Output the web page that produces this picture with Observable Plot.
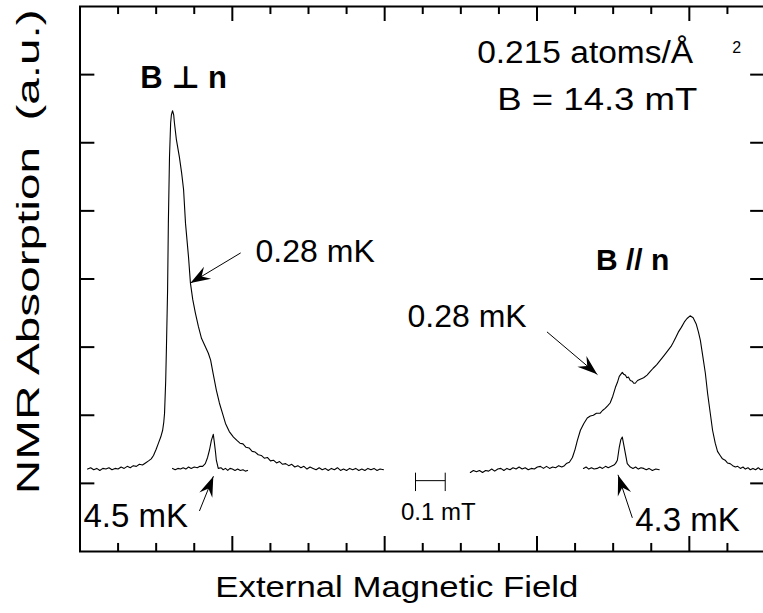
<!DOCTYPE html>
<html>
<head>
<meta charset="utf-8">
<script src="https://cdn.jsdelivr.net/npm/d3@7"></script>
<script src="https://cdn.jsdelivr.net/npm/@observablehq/plot@0.6"></script>
<style>
  html, body { margin: 0; padding: 0; background: #fff; }
  #chart svg { display: block; }
</style>
</head>
<body>
<div id="chart"></div>
<script>
// ---- data (field in axis-grid units, absorption in arbitrary units) ----
const perpTrace = [
  [0.20,1.21],[0.28,1.23],[0.36,1.20],[0.44,1.22],[0.52,1.19],[0.60,1.22],[0.68,1.21],[0.76,1.23],
  [0.84,1.20],[0.92,1.22],[1.00,1.21],[1.08,1.24],[1.16,1.22],[1.24,1.25],[1.32,1.23],[1.40,1.26],
  [1.48,1.25],[1.56,1.28],[1.64,1.27],[1.72,1.30],[1.80,1.33],[1.87,1.36],[1.93,1.41],[2.00,1.50],
  [2.06,1.59],[2.12,1.68],[2.17,1.78],[2.20,1.90],[2.22,2.03],[2.25,2.50],[2.27,3.00],[2.30,3.84],
  [2.32,4.82],[2.35,5.79],[2.38,6.29],[2.40,6.41],[2.43,6.47],[2.46,6.41],[2.48,6.29],[2.53,6.05],
  [2.61,5.79],[2.67,5.55],[2.72,5.31],[2.77,4.82],[2.85,4.32],[2.90,3.94],[2.96,3.70],[3.03,3.50],
  [3.11,3.30],[3.19,3.13],[3.28,3.02],[3.37,2.91],[3.43,2.81],[3.50,2.60],[3.58,2.37],[3.66,2.18],
  [3.74,2.03],[3.82,1.88],[3.92,1.76],[4.03,1.68],[4.12,1.63],[4.20,1.59],[4.28,1.58],[4.36,1.53],
  [4.44,1.52],[4.52,1.47],[4.60,1.46],[4.68,1.42],[4.76,1.41],[4.84,1.37],[4.92,1.38],[5.00,1.33],
  [5.08,1.34],[5.16,1.30],[5.24,1.32],[5.32,1.28],[5.40,1.29],[5.48,1.26],[5.56,1.28],[5.64,1.24],
  [5.72,1.26],[5.80,1.23],[5.88,1.25],[5.96,1.21],[6.04,1.24],[6.12,1.22],[6.20,1.20],[6.28,1.23],
  [6.36,1.20],[6.44,1.22],[6.52,1.19],[6.60,1.22],[6.68,1.20],[6.76,1.23],[6.84,1.19],[6.92,1.21],
  [7.00,1.19],[7.08,1.22],[7.16,1.20],[7.24,1.22],[7.32,1.19],[7.40,1.21],[7.48,1.19],[7.56,1.22],
  [7.64,1.20],[7.72,1.22],[7.80,1.19],[7.88,1.21],[7.97,1.20]
];
const perpWarm = [
  [2.43,1.22],[2.50,1.20],[2.57,1.22],[2.64,1.21],[2.71,1.23],[2.78,1.21],[2.85,1.24],[2.92,1.22],
  [3.00,1.24],[3.08,1.23],[3.15,1.25],[3.22,1.25],[3.29,1.29],[3.35,1.38],[3.40,1.49],[3.45,1.63],
  [3.50,1.72],[3.53,1.59],[3.56,1.45],[3.58,1.34],[3.63,1.22],[3.70,1.23],[3.76,1.20],[3.82,1.22],
  [3.88,1.19],[3.94,1.22],[4.00,1.21],[4.07,1.19],[4.14,1.21],[4.21,1.19],[4.28,1.20],[4.34,1.18],[4.40,1.19]
];
const parTrace = [
  [10.25,1.16],[10.33,1.19],[10.41,1.17],[10.49,1.19],[10.57,1.16],[10.65,1.19],[10.73,1.18],[10.81,1.21],
  [10.89,1.18],[10.97,1.21],[11.05,1.22],[11.13,1.19],[11.21,1.22],[11.29,1.20],[11.37,1.23],[11.45,1.21],
  [11.53,1.24],[11.61,1.21],[11.69,1.23],[11.77,1.20],[11.85,1.22],[11.93,1.21],[12.01,1.24],[12.09,1.25],
  [12.17,1.22],[12.25,1.25],[12.33,1.22],[12.41,1.24],[12.49,1.23],[12.57,1.26],[12.65,1.24],[12.72,1.26],
  [12.77,1.29],[12.85,1.31],[12.93,1.38],[13.00,1.50],[13.06,1.63],[13.14,1.78],[13.23,1.88],[13.32,1.96],
  [13.40,1.99],[13.48,2.00],[13.56,2.03],[13.66,2.03],[13.72,2.07],[13.79,2.10],[13.86,2.14],[13.92,2.18],
  [13.99,2.28],[14.06,2.41],[14.11,2.48],[14.16,2.57],[14.20,2.60],[14.24,2.63],[14.28,2.60],[14.32,2.59],
  [14.36,2.55],[14.40,2.56],[14.45,2.51],[14.50,2.50],[14.54,2.47],[14.58,2.47],[14.64,2.51],[14.71,2.53],
  [14.80,2.55],[14.89,2.59],[14.97,2.64],[15.05,2.69],[15.14,2.74],[15.24,2.81],[15.34,2.88],[15.45,2.96],
  [15.52,3.01],[15.58,3.07],[15.65,3.15],[15.71,3.22],[15.79,3.29],[15.87,3.37],[15.94,3.42],[16.02,3.46],
  [16.10,3.43],[16.18,3.34],[16.24,3.22],[16.29,3.10],[16.35,2.88],[16.42,2.62],[16.48,2.32],[16.55,2.03],
  [16.61,1.78],[16.68,1.59],[16.74,1.47],[16.81,1.41],[16.87,1.36],[16.94,1.34],[17.00,1.30],[17.07,1.29],
  [17.14,1.26],[17.21,1.24],[17.27,1.25],[17.34,1.22],[17.41,1.24],[17.47,1.21],[17.54,1.23],[17.60,1.20],
  [17.67,1.22],[17.74,1.20],[17.81,1.23],[17.87,1.20],[17.94,1.21]
];
const parWarm = [
  [13.22,1.22],[13.29,1.24],[13.36,1.21],[13.43,1.23],[13.50,1.21],[13.58,1.22],[13.65,1.24],[13.72,1.22],
  [13.80,1.25],[13.87,1.23],[13.95,1.25],[14.02,1.27],[14.06,1.29],[14.11,1.34],[14.16,1.53],[14.20,1.64],
  [14.24,1.68],[14.28,1.56],[14.32,1.44],[14.37,1.29],[14.45,1.24],[14.52,1.22],[14.59,1.24],[14.66,1.21],
  [14.73,1.23],[14.80,1.22],[14.87,1.20],[14.94,1.22],[15.03,1.19],[15.12,1.21],[15.21,1.20]
];

const xMajorTicks = [4, 8, 12, 16];
const xMinorTicks = [1, 2, 3, 5, 6, 7, 9, 10, 11, 13, 14, 15, 17];
const yTicks = [1, 2, 3, 4, 5, 6, 7];

const labels = [
  {text: "B \u22A5 n",        x: 2.72,  y: 6.95, anchor: "middle", size: 31, weight: "bold"},
  {text: "0.215 atoms/\u00C5", x: 16.10, y: 7.32, anchor: "end",    size: 31, weight: "normal"},
  {text: "2",                  x: 17.13, y: 7.40, anchor: "start",  size: 16, weight: "normal"},
  {text: "B = 14.3 mT",        x: 16.21, y: 6.63, anchor: "end",    size: 31, weight: "normal"},
  {text: "0.28 mK",            x: 4.61,  y: 4.40, anchor: "start",  size: 32, weight: "normal"},
  {text: "B // n",             x: 14.51, y: 4.27, anchor: "middle", size: 30, weight: "bold"},
  {text: "0.28 mK",            x: 8.60,  y: 3.44, anchor: "start",  size: 32, weight: "normal"},
  {text: "4.5 mK",             x: 0.09,  y: 0.51, anchor: "start",  size: 33, weight: "normal"},
  {text: "4.3 mK",             x: 14.58, y: 0.46, anchor: "start",  size: 33, weight: "normal"},
  {text: "0.1 mT",             x: 9.41,  y: 0.57, anchor: "middle", size: 24, weight: "normal"}
];
const arrows = [
  {x1: 4.21,  y1: 4.38, x2: 2.90,  y2: 3.94},
  {x1: 12.27, y1: 3.22, x2: 13.58, y2: 2.60},
  {x1: 3.14,  y1: 0.60, x2: 3.50,  y2: 1.10},
  {x1: 14.50, y1: 0.50, x2: 14.13, y2: 1.12}
];
const scaleBarX = [8.81, 9.59];
const scaleBarY = 1.04;

const yTitle = "NMR Absorption  (a.u.)";
const xTitle = "External Magnetic Field";

const font = "'Liberation Sans', Arial, 'DejaVu Sans', sans-serif";
const xMax = 18, yMax = 8;
const majX = 0.22, minX = 0.118, tickYLen = 0.39;

const textMarks = ["normal", "bold"].flatMap(w =>
  ["start", "middle", "end"].flatMap(a =>
    [...new Set(labels.map(d => d.size))].map(s => {
      const data = labels.filter(d => d.weight === w && d.anchor === a && d.size === s);
      return data.length ? Plot.text(data, {x: "x", y: "y", text: "text", textAnchor: a,
        fontSize: s, fontWeight: w, fill: "black"}) : null;
    })
  )
).filter(Boolean);

const svg = Plot.plot({
  width: 763,
  height: 613,
  marginLeft: 79.5,
  marginRight: -2,
  marginTop: 6,
  marginBottom: 62,
  x: {domain: [0, xMax], axis: null},
  y: {domain: [0, yMax], axis: null},
  style: {fontFamily: font, background: "white", color: "black"},
  marks: [
    Plot.line(perpTrace, {x: d => d[0], y: d => d[1], stroke: "black", strokeWidth: 1.1}),
    Plot.line(perpWarm, {x: d => d[0], y: d => d[1], stroke: "black", strokeWidth: 1.1}),
    Plot.line(parTrace, {x: d => d[0], y: d => d[1], stroke: "black", strokeWidth: 1.1}),
    Plot.line(parWarm, {x: d => d[0], y: d => d[1], stroke: "black", strokeWidth: 1.1}),
    // ticks bottom / top
    Plot.ruleX(xMajorTicks, {x: d => d, y1: 0, y2: majX, stroke: "black", strokeWidth: 2}),
    Plot.ruleX(xMinorTicks, {x: d => d, y1: 0, y2: minX, stroke: "black", strokeWidth: 2}),
    Plot.ruleX(xMajorTicks, {x: d => d, y1: yMax, y2: yMax - majX, stroke: "black", strokeWidth: 2}),
    Plot.ruleX(xMinorTicks, {x: d => d, y1: yMax, y2: yMax - minX, stroke: "black", strokeWidth: 2}),
    // ticks left / right
    Plot.ruleY(yTicks, {y: d => d, x1: 0, x2: tickYLen, stroke: "black", strokeWidth: 2}),
    Plot.ruleY(yTicks, {y: d => d, x1: xMax, x2: xMax - tickYLen, stroke: "black", strokeWidth: 2}),
    Plot.frame({stroke: "black", strokeWidth: 2}),
    // scale bar
    Plot.link([scaleBarX], {x1: d => d[0], x2: d => d[1], y1: scaleBarY, y2: scaleBarY, stroke: "black", strokeWidth: 1}),
    Plot.ruleX(scaleBarX, {x: d => d, y1: scaleBarY - 0.16, y2: scaleBarY + 0.11, stroke: "black", strokeWidth: 1}),
    // arrows
    Plot.arrow(arrows, {x1: "x1", y1: "y1", x2: "x2", y2: "y2", stroke: "black", strokeWidth: 1, headLength: 0, bend: 0}),
    ...textMarks,
    Plot.text([yTitle], {x: -1.325, y: 4.40, text: d => d, rotate: -90, fontSize: 31, fill: "black"}),
    Plot.text([xTitle], {x: 8.32, y: -0.52, text: d => d, fontSize: 30, fill: "black"})
  ]
});

// filled arrowheads
const s = d3.select(svg);
const defs = s.insert("defs", ":first-child");
defs.append("marker")
  .attr("id", "stealth")
  .attr("viewBox", "-22 -10 24 20")
  .attr("markerWidth", 24).attr("markerHeight", 20)
  .attr("markerUnits", "userSpaceOnUse")
  .attr("refX", 0).attr("refY", 0)
  .attr("orient", "auto")
  .append("path")
  .attr("d", "M0,0 L-20,-7 L-13,0 L-20,7 Z")
  .attr("fill", "black");
s.selectAll('g[aria-label="arrow"] path').attr("marker-end", "url(#stealth)");

const lengths = {};
lengths[yTitle] = 485;
lengths[xTitle] = 363;
lengths["0.215 atoms/\u00C5"] = 216;
lengths["B = 14.3 mT"] = 200;
s.selectAll("text").each(function() {
  const t = this.textContent;
  if (lengths[t]) d3.select(this).attr("textLength", lengths[t]).attr("lengthAdjust", "spacingAndGlyphs");
});

document.getElementById("chart").appendChild(svg);
</script>
</body>
</html>
